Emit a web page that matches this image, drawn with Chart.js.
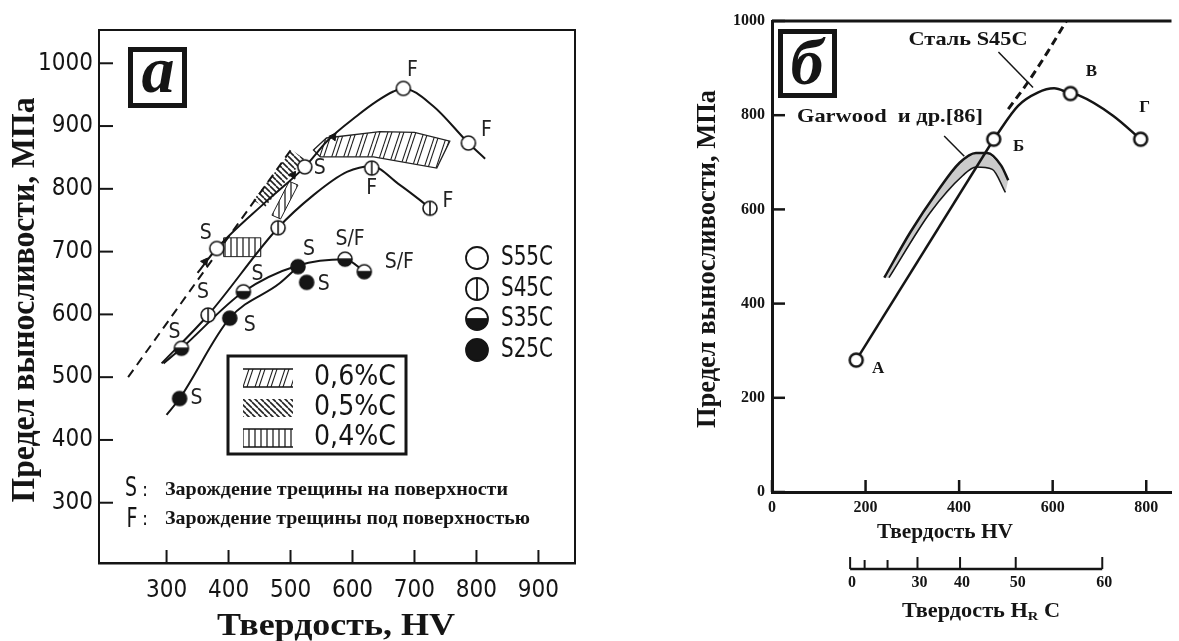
<!DOCTYPE html>
<html lang="ru">
<head>
<meta charset="utf-8">
<title>Предел выносливости и твердость сталей</title>
<script src="https://cdn.jsdelivr.net/npm/chart.js@4.4.1/dist/chart.umd.min.js"></script>
<style>
  html, body { margin: 0; padding: 0; background: #fff; }
  #wrap { position: relative; width: 1179px; height: 641px; overflow: hidden; background: #fff; }
  canvas { position: absolute; top: 0; }
  #chartA { left: 0; }
  #chartB { left: 680px; }
</style>
</head>
<body>
<div id="wrap">
  <canvas id="chartA" width="600" height="641"></canvas>
  <canvas id="chartB" width="499" height="641"></canvas>
</div>
<script>
// ================= Panel а: fatigue limit vs Vickers hardness =================
const hvTicksA = [300, 400, 500, 600, 700, 800, 900];
const mpaTicksA = [300, 400, 500, 600, 700, 800, 900, 1000];

// measured points [HV, MPa] and crack-origin marks (S – surface, F – subsurface)
const s55cPoints = [[381, 705], [523, 835], [682, 960], [787, 873]];
const s55cCrack  = ['S', 'S', 'F', 'F'];
const s45cPoints = [[367, 599], [480, 738], [631, 833], [725, 769]];
const s45cCrack  = ['S', '', 'F', 'F'];
const s35cPoints = [[324, 546], [424, 636], [588, 688], [619, 668]];
const s35cCrack  = ['S', 'S', 'S/F', 'S/F'];
const s25cPoints = [[321, 466], [402, 594], [512, 676], [526, 651]];
const s25cCrack  = ['S', 'S', 'S', 'S'];

// trend curves
const s55cCurve = [[350, 666], [381, 705], [461, 780], [523, 835], [560, 877], [607, 916], [640, 940], [666, 955], [682, 960], [730, 932], [787, 873], [814, 848]];
const s45cCurve = [[292, 522], [367, 599], [480, 738], [537, 790], [591, 827], [631, 836], [674, 808], [709, 782], [725, 769]];
const s35cCurve = [[295, 522], [324, 546], [424, 636], [512, 678], [588, 688], [619, 668]];
const s25cCurve = [[300, 440], [321, 466], [402, 594], [483, 650], [512, 676]];
const envelopeLine = [[238, 500], [505, 868]];
const arrowMarks = [[362, 684], [504, 822], [569, 883]];

// carbon-content scatter bands
const band06 = [[537, 862], [558, 881], [644, 891], [700, 890], [757, 876], [736, 833], [634, 851], [548, 851]];
const band05 = [[440, 782], [502, 862], [522, 848], [458, 770]];
const band04a = [[392, 692], [392, 722], [452, 722], [452, 692]];
const band04b = [[470, 758], [498, 812], [512, 806], [484, 752]];

const gradeNames = ['S55C', 'S45C', 'S35C', 'S25C'];
const bandNames = ['0,6%C', '0,5%C', '0,4%C'];
const noteS = 'Зарождение трещины на поверхности';
const noteF = 'Зарождение трещины под поверхностью';

// ================= Panel б: steel S45C, HV and HRC scales =================
const hvTicksB = [0, 200, 400, 600, 800];
const mpaTicksB = [0, 200, 400, 600, 800, 1000];
const pointsB = [[180, 280], [474, 749], [638, 846], [788, 749]];
const pointNamesB = ['А', 'Б', 'В', 'Г'];
const lineAB = [[180, 280], [474, 749]];
const curveBG = [[474, 749], [526, 820], [568, 848], [603, 857], [638, 846], [656, 842], [729, 799], [788, 749]];
const steelDashed = [[505, 813], [547, 870], [589, 934], [631, 1003]];
const garwoodUpper = [[240, 455], [296, 552], [352, 636], [401, 699], [436, 720], [460, 720], [490, 693], [505, 662]];
const garwoodLower = [[250, 455], [338, 593], [408, 672], [436, 690], [471, 685], [499, 636]];
const leaderSteel = [[484, 934], [558, 859]];
const leaderGarwood = [[368, 756], [411, 713]];
const hrcLabels = ['0', '', '', '30', '40', '50', '60'];
const hrcAtHV = [167, 198, 247, 311, 402, 521, 706];

// ---------------- shared drawing helpers ----------------
const INK = '#151515';
const narrow = "'Liberation Sans Narrow', 'DejaVu Sans Condensed', Roboto, sans-serif";
const serif = "'Liberation Serif', 'DejaVu Serif', serif";
const toXY = arr => arr.map(([x, y]) => ({ x, y }));

function fitText(ctx, text, x, y, width, font, align = 'center') {
  ctx.save();
  ctx.font = font;
  ctx.fillStyle = INK;
  ctx.textBaseline = 'middle';
  ctx.textAlign = align;
  const w = ctx.measureText(text).width;
  ctx.translate(x, y);
  if (width) ctx.scale(width / w, 1);
  ctx.fillText(text, 0, 0);
  ctx.restore();
}
function fitTextUp(ctx, text, x, y, length, font) {
  ctx.save();
  ctx.font = font;
  ctx.fillStyle = INK;
  ctx.textBaseline = 'middle';
  ctx.textAlign = 'center';
  const w = ctx.measureText(text).width;
  ctx.translate(x, y);
  ctx.rotate(-Math.PI / 2);
  ctx.scale(length / w, 1);
  ctx.fillText(text, 0, 0);
  ctx.restore();
}
function drawMarker(g, kind, x, y, r, lw) {
  g.save();
  g.lineWidth = lw;
  g.strokeStyle = INK;
  g.fillStyle = '#fff';
  g.beginPath(); g.arc(x, y, r, 0, 2 * Math.PI); g.fill();
  if (kind === 'filled') { g.fillStyle = INK; g.fill(); }
  if (kind === 'half') {
    g.fillStyle = INK;
    g.beginPath(); g.arc(x, y, r, 0, Math.PI); g.closePath(); g.fill();
  }
  g.beginPath(); g.arc(x, y, r, 0, 2 * Math.PI); g.stroke();
  if (kind === 'bar') { g.beginPath(); g.moveTo(x, y - r); g.lineTo(x, y + r); g.stroke(); }
  if (kind === 'half') { g.beginPath(); g.moveTo(x - r, y); g.lineTo(x + r, y); g.stroke(); }
  g.restore();
}
function markerCanvas(kind, r, lw) {
  const c = document.createElement('canvas');
  const size = Math.ceil(2 * r + lw + 2);
  c.width = size; c.height = size;
  drawMarker(c.getContext('2d'), kind, size / 2, size / 2, r, lw);
  return c;
}
function makePattern(ctx, kind) {
  const t = document.createElement('canvas');
  if (kind === '06') { t.width = 12; t.height = 36; }
  else { t.width = 6; t.height = 6; }
  const g = t.getContext('2d');
  g.strokeStyle = '#222';
  if (kind === '06') {
    g.lineWidth = 1.1;
    for (let k = -1; k <= 1; k++) for (const d of [0, 4]) {
      g.beginPath(); g.moveTo(k * 12 + d, 36); g.lineTo(k * 12 + d + 12, 0); g.stroke();
    }
  } else if (kind === '05') {
    g.lineWidth = 1.6;
    for (let k = -1; k <= 1; k++) { g.beginPath(); g.moveTo(k * 6, 0); g.lineTo(k * 6 + 6, 6); g.stroke(); }
  } else {
    g.lineWidth = 1.3;
    g.beginPath(); g.moveTo(3, 0); g.lineTo(3, 6); g.stroke();
  }
  return ctx.createPattern(t, 'repeat');
}
function polyPath(ctx, xs, ys, pts) {
  ctx.beginPath();
  pts.forEach(([a, b], i) => {
    const px = xs.getPixelForValue(a), py = ys.getPixelForValue(b);
    if (i) ctx.lineTo(px, py); else ctx.moveTo(px, py);
  });
  ctx.closePath();
}
function clipArea(chart) {
  const a = chart.chartArea;
  chart.ctx.beginPath();
  chart.ctx.rect(a.left, a.top, a.right - a.left, a.bottom - a.top);
  chart.ctx.clip();
}
function inwardTicks(chart, xVals, yVals, lenX, lenY, lw) {
  const { ctx, scales: { x, y }, chartArea: a } = chart;
  ctx.save();
  ctx.strokeStyle = INK; ctx.lineWidth = lw;
  xVals.forEach(v => { const px = x.getPixelForValue(v); ctx.beginPath(); ctx.moveTo(px, a.bottom); ctx.lineTo(px, a.bottom - lenX); ctx.stroke(); });
  yVals.forEach(v => { const py = y.getPixelForValue(v); ctx.beginPath(); ctx.moveTo(a.left, py); ctx.lineTo(a.left + lenY, py); ctx.stroke(); });
  ctx.restore();
}
function letterBox(ctx, x, y, w, h, glyph, gx, gy, size) {
  ctx.save();
  ctx.lineWidth = 5; ctx.strokeStyle = INK;
  ctx.strokeRect(x, y, w, h);
  ctx.font = `italic bold ${size}px ${serif}`;
  ctx.fillStyle = INK; ctx.textAlign = 'center'; ctx.textBaseline = 'alphabetic';
  ctx.fillText(glyph, gx, gy);
  ctx.restore();
}

// ---------------- panel а ----------------
const gradeSeries = [
  { pts: s55cPoints, crack: s55cCrack, kind: 'open',   offs: [[-11, -15], [15, 2], [9, -18], [18, -12]] },
  { pts: s45cPoints, crack: s45cCrack, kind: 'bar',    offs: [[-5, -22], [0, 0], [0, 20], [18, -7]] },
  { pts: s35cPoints, crack: s35cCrack, kind: 'half',   offs: [[-7, -16], [14, -17], [5, -20], [35, -9]] },
  { pts: s25cPoints, crack: s25cCrack, kind: 'filled', offs: [[17, 0], [20, 7], [11, -17], [17, 2]] }
];

const panelAPlugin = {
  id: 'panelA',
  beforeDatasetsDraw(chart) {
    const { ctx, scales: { x, y } } = chart;
    const p06 = makePattern(ctx, '06'), p05 = makePattern(ctx, '05'), p04 = makePattern(ctx, '04');
    ctx.save();
    clipArea(chart);
    ctx.strokeStyle = '#222';
    polyPath(ctx, x, y, band06); ctx.fillStyle = p06; ctx.fill(); ctx.lineWidth = 1.3; ctx.stroke();
    polyPath(ctx, x, y, band05); ctx.fillStyle = p05; ctx.fill();
    [band04a, band04b].forEach(b => { polyPath(ctx, x, y, b); ctx.fillStyle = p04; ctx.fill(); ctx.lineWidth = 1; ctx.stroke(); });
    ctx.restore();
  },
  afterDatasetsDraw(chart) {
    const { ctx, scales: { x, y }, chartArea: a } = chart;
    inwardTicks(chart, hvTicksA, mpaTicksA, 13, 14, 2);
    ctx.save();
    ctx.strokeStyle = INK; ctx.lineWidth = 2;
    ctx.beginPath(); ctx.moveTo(a.left, a.top); ctx.lineTo(a.right, a.top); ctx.lineTo(a.right, a.bottom); ctx.stroke();
    // crack-origin marks beside the points
    ctx.font = `21px ${narrow}`;
    ctx.fillStyle = '#222'; ctx.textAlign = 'center'; ctx.textBaseline = 'middle';
    gradeSeries.forEach(s => s.pts.forEach(([hv, m], i) => {
      if (!s.crack[i]) return;
      ctx.fillText(s.crack[i], x.getPixelForValue(hv) + s.offs[i][0], y.getPixelForValue(m) + s.offs[i][1]);
    }));
    ctx.restore();
  },
  afterDraw(chart) {
    const ctx = chart.ctx;
    letterBox(ctx, 130.5, 49.5, 54, 56, 'а', 158, 92, 66);
    // grade legend
    const rows = [258, 289, 319, 350];
    gradeSeries.forEach((s, i) => {
      drawMarker(ctx, s.kind, 477, rows[i], 11, 1.8);
      fitText(ctx, gradeNames[i], 501, rows[i], 52, `26px ${narrow}`, 'left');
    });
    // carbon-content legend box
    ctx.save();
    ctx.strokeStyle = INK; ctx.lineWidth = 3;
    ctx.strokeRect(228, 356, 178, 98);
    const pats = [makePattern(ctx, '06'), makePattern(ctx, '05'), makePattern(ctx, '04')];
    const brow = [378, 408, 438];
    brow.forEach((cy, i) => {
      ctx.fillStyle = pats[i];
      ctx.fillRect(243, cy - 9, 50, 18);
      if (i !== 1) {
        ctx.lineWidth = 1.3;
        ctx.beginPath(); ctx.moveTo(243, cy - 9); ctx.lineTo(293, cy - 9); ctx.moveTo(243, cy + 9); ctx.lineTo(293, cy + 9); ctx.stroke();
      }
      fitText(ctx, bandNames[i], 314, cy, 82, `28px ${narrow}`, 'left');
    });
    ctx.restore();
    // crack-origin notes
    fitText(ctx, 'S', 131, 489, 12, `26px ${narrow}`);
    fitText(ctx, ':', 145, 491, 0, `20px ${narrow}`);
    fitText(ctx, noteS, 165, 490, 343, `bold 19px ${serif}`, 'left');
    fitText(ctx, 'F', 132, 520, 11, `26px ${narrow}`);
    fitText(ctx, ':', 145, 520, 0, `20px ${narrow}`);
    fitText(ctx, noteF, 165, 519, 365, `bold 19px ${serif}`, 'left');
    // axis titles
    fitTextUp(ctx, 'Предел выносливости, МПа', 25, 300, 405, `bold 34px ${serif}`);
    fitText(ctx, 'Твердость, HV', 336, 627, 238, `bold 32px ${serif}`);
  }
};

const lineStyle = (data, extra = {}) => Object.assign({
  data: toXY(data), showLine: true, pointRadius: 0, borderColor: INK, borderWidth: 2,
  cubicInterpolationMode: 'monotone', order: 2
}, extra);
const markerStyle = (data, kind, r, lw) => ({
  data: toXY(data), showLine: false, pointStyle: markerCanvas(kind, r, lw), pointRadius: r, order: 0
});

new Chart(document.getElementById('chartA'), {
  type: 'scatter',
  data: {
    datasets: [
      ...gradeSeries.map(s => markerStyle(s.pts, s.kind, 7, 1.6)),
      { data: toXY(arrowMarks), showLine: false, pointStyle: 'triangle', rotation: 35, pointRadius: 4.5,
        backgroundColor: INK, borderColor: INK, order: 1 },
      lineStyle(s55cCurve), lineStyle(s45cCurve), lineStyle(s35cCurve), lineStyle(s25cCurve),
      lineStyle(envelopeLine, { borderDash: [9, 6], cubicInterpolationMode: 'default' })
    ]
  },
  options: {
    responsive: false, animation: false,
    layout: { padding: { top: 30, right: 25, left: 0, bottom: 0 } },
    plugins: { legend: { display: false }, tooltip: { enabled: false } },
    scales: {
      x: {
        type: 'linear', min: 191, max: 959,
        afterBuildTicks: s => { s.ticks = hvTicksA.map(v => ({ value: v })); },
        afterFit: s => { s.height = 78; },
        grid: { display: false, drawTicks: false },
        border: { display: true, color: INK, width: 2.5 },
        ticks: { padding: 13, color: INK, autoSkip: false, maxRotation: 0, font: { family: narrow, size: 24 }, callback: v => String(v) }
      },
      y: {
        type: 'linear', min: 204, max: 1053,
        afterBuildTicks: s => { s.ticks = mpaTicksA.map(v => ({ value: v })); },
        afterFit: s => { s.width = 99; },
        grid: { display: false, drawTicks: false },
        border: { display: true, color: INK, width: 2 },
        ticks: { padding: 6, color: INK, autoSkip: false, font: { family: narrow, size: 24 }, callback: v => String(v) }
      }
    }
  },
  plugins: [panelAPlugin]
});

// ---------------- panel б ----------------
const labelOffsB = [[22, 8], [25, 7], [21, -22], [4, -32]];

const panelBPlugin = {
  id: 'panelB',
  beforeDatasetsDraw(chart) {
    const { ctx, scales: { x, y } } = chart;
    ctx.save();
    clipArea(chart);
    polyPath(ctx, x, y, garwoodUpper.concat(garwoodLower.slice().reverse()));
    ctx.fillStyle = '#cbcbcb';
    ctx.fill();
    ctx.restore();
  },
  afterDatasetsDraw(chart) {
    const { ctx, scales: { x, y }, chartArea: a } = chart;
    inwardTicks(chart, hvTicksB, mpaTicksB, 12, 13, 2.5);
    ctx.save();
    ctx.strokeStyle = INK; ctx.lineWidth = 3;
    ctx.beginPath(); ctx.moveTo(a.left, a.top); ctx.lineTo(a.right, a.top); ctx.stroke();
    ctx.font = `bold 17px ${serif}`;
    ctx.fillStyle = INK; ctx.textAlign = 'center'; ctx.textBaseline = 'middle';
    pointsB.forEach(([hv, m], i) => {
      ctx.fillText(pointNamesB[i], x.getPixelForValue(hv) + labelOffsB[i][0], y.getPixelForValue(m) + labelOffsB[i][1]);
    });
    ctx.restore();
  },
  afterDraw(chart) {
    const { ctx, scales: { x } } = chart;
    letterBox(ctx, 100.5, 31.5, 54, 64, 'б', 127, 84, 66);
    fitText(ctx, 'Сталь S45C', 288, 40, 119, `bold 19px ${serif}`);
    fitText(ctx, 'Garwood  и др.[86]', 210, 117, 186, `bold 19px ${serif}`);
    fitTextUp(ctx, 'Предел выносливости, МПа', 28, 259, 338, `bold 28px ${serif}`);
    fitText(ctx, 'Твердость HV', 265, 532, 136, `bold 22px ${serif}`);
    // secondary Rockwell C scale, placed by its HV equivalents
    const yLine = 569;
    ctx.save();
    ctx.strokeStyle = INK; ctx.lineWidth = 2.5;
    const x0 = x.getPixelForValue(hrcAtHV[0]), x1 = x.getPixelForValue(hrcAtHV[hrcAtHV.length - 1]);
    ctx.beginPath(); ctx.moveTo(x0, yLine); ctx.lineTo(x1, yLine); ctx.stroke();
    ctx.font = `bold 16px ${serif}`; ctx.fillStyle = INK; ctx.textAlign = 'center'; ctx.textBaseline = 'middle';
    hrcAtHV.forEach((hv, i) => {
      const px = x.getPixelForValue(hv);
      const len = hrcLabels[i] ? 12 : 9;
      ctx.lineWidth = 2;
      ctx.beginPath(); ctx.moveTo(px, yLine); ctx.lineTo(px, yLine - len); ctx.stroke();
      if (hrcLabels[i]) ctx.fillText(hrcLabels[i], px + 2, 583);
    });
    // title with subscript R
    const big = `bold 20px ${serif}`, small = `bold 13px ${serif}`;
    ctx.font = big; const w1 = ctx.measureText('Твердость H').width; const w3 = ctx.measureText(' C').width;
    ctx.font = small; const w2 = ctx.measureText('R').width;
    const total = w1 + w2 + w3, target = 158, sx = target / total;
    ctx.translate(301 - target / 2, 612); ctx.scale(sx, 1);
    ctx.textAlign = 'left';
    ctx.font = big; ctx.fillText('Твердость H', 0, 0);
    ctx.font = small; ctx.fillText('R', w1, 5);
    ctx.font = big; ctx.fillText(' C', w1 + w2, 0);
    ctx.restore();
  }
};

new Chart(document.getElementById('chartB'), {
  type: 'scatter',
  data: {
    datasets: [
      markerStyle(pointsB, 'open', 6.5, 2.5),
      lineStyle(lineAB, { borderWidth: 2.5, cubicInterpolationMode: 'default' }),
      lineStyle(curveBG, { borderWidth: 2.5 }),
      lineStyle(steelDashed, { borderWidth: 3, borderDash: [8, 5] }),
      lineStyle(garwoodUpper, { borderWidth: 2.5 }),
      lineStyle(garwoodLower, { borderWidth: 1.6 }),
      lineStyle(leaderSteel, { borderWidth: 1.5, cubicInterpolationMode: 'default' }),
      lineStyle(leaderGarwood, { borderWidth: 1.5, cubicInterpolationMode: 'default' })
    ]
  },
  options: {
    responsive: false, animation: false,
    layout: { padding: { top: 21, right: 0, left: 0, bottom: 0 } },
    plugins: { legend: { display: false }, tooltip: { enabled: false } },
    scales: {
      x: {
        type: 'linear', min: 0, max: 854,
        afterBuildTicks: s => { s.ticks = hvTicksB.map(v => ({ value: v })); },
        afterFit: s => { s.height = 149; },
        grid: { display: false, drawTicks: false },
        border: { display: true, color: INK, width: 3 },
        ticks: { padding: 6, color: INK, autoSkip: false, maxRotation: 0, font: { family: serif, size: 16, weight: 'bold' }, callback: v => String(v) }
      },
      y: {
        type: 'linear', min: 0, max: 1000,
        afterBuildTicks: s => { s.ticks = mpaTicksB.map(v => ({ value: v })); },
        afterFit: s => { s.width = 92; },
        grid: { display: false, drawTicks: false },
        border: { display: true, color: INK, width: 3 },
        ticks: { padding: 7, color: INK, autoSkip: false, font: { family: serif, size: 16, weight: 'bold' }, callback: v => String(v) }
      }
    }
  },
  plugins: [panelBPlugin]
});
</script>
</body>
</html>
